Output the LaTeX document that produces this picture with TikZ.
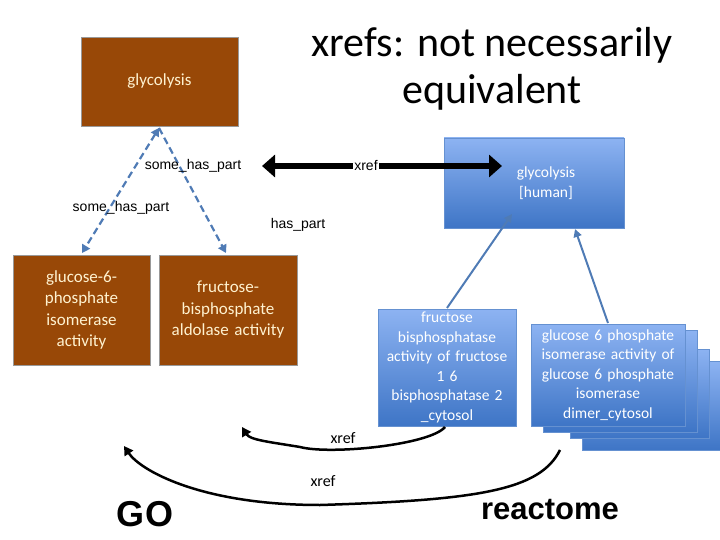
\documentclass[tikz,border=0pt]{standalone}
\usepackage{fontspec}
\setmainfont{Carlito}
\newfontfamily\arialf{Liberation Sans}
\usetikzlibrary{arrows.meta}
\definecolor{brn}{HTML}{984807}
\definecolor{bluA}{HTML}{8DB3F2}
\definecolor{bluB}{HTML}{3E75C6}
\definecolor{lnb}{HTML}{4F7BB5}
\definecolor{cream}{HTML}{FFF2D0}
\tikzset{x=1pt,y=-1pt,
 gobox/.style={draw=gray!80,fill=brn,text=cream,align=center,font=\fontsize{17}{21.5}\selectfont,inner sep=0pt},
 rbox/.style={draw=bluB!80,top color=bluA,bottom color=bluB,text=white,align=center,font=\fontsize{15.5}{19.5}\selectfont,inner sep=0pt},
 lbl/.style={font=\arialf\fontsize{14}{16}\selectfont},
 dsh/.style={draw=lnb,line width=2.2pt,dashed,dash pattern=on 7pt off 4pt,-{Triangle[length=8pt,width=9pt]}},
 sol/.style={draw=lnb,line width=2pt,-{Triangle[length=8pt,width=8pt]}},
 curv/.style={draw=black,line width=2.5pt,-{Triangle[length=9pt,width=10pt]}}}
\begin{document}
\begin{tikzpicture}
\useasboundingbox (0,0) rectangle (720,540);
\node[gobox,minimum width=157pt,minimum height=89pt,font=\fontsize{17}{21}\selectfont] (gly) at (159.5,81.5) {glycolysis};
\node[font=\fontsize{42}{47}\selectfont,align=center] (title) at (492,69) {xrefs: not necessarily\\equivalent};
\node[gobox,minimum width=137pt,minimum height=110pt,text width=125pt] (g1) at (81.5,310) {glucose-6-\\phosphate\\isomerase\\activity};
\node[gobox,minimum width=138pt,minimum height=110pt,text width=132pt] (g2) at (228,310) {fructose-\\bisphosphate\\aldolase activity};
\node[rbox,minimum width=180pt,minimum height=90pt,text width=160pt] (hum) at (534,183) {\hspace*{24pt}glycolysis\\\hspace*{24pt}[human]};
\node[rbox,minimum width=138pt,minimum height=117pt,text width=134pt] (fru) at (447,367.5) {fructose\\bisphosphatase\\activity of fructose\\1 6\\bisphosphatase 2\\\_cytosol};
\node[rbox,minimum width=138pt,minimum height=89pt] (s3) at (651,405.5) {};
\node[rbox,minimum width=139pt,minimum height=89pt] (s2) at (639.5,393.5) {};
\node[rbox,minimum width=154pt,minimum height=102pt] (s1) at (620,381) {};
\node[rbox,minimum width=154pt,minimum height=102pt,text width=152pt] (glu) at (608,375) {glucose 6 phosphate\\isomerase activity of\\glucose 6 phosphate\\isomerase\\dimer\_cytosol};
\coordinate (gb) at (159,128);
\draw[dsh,{Triangle[length=8pt,width=9pt]}-{Triangle[length=8pt,width=9pt]}] (gb) -- (82,253);
\draw[dsh] (gb) -- (226,253);
\node[lbl] (l1) at (193,166) {some\_has\_part};
\node[lbl] (l2) at (121,208) {some\_has\_part};
\node[lbl] (l3) at (298,225) {has\_part};
\coordinate (xa) at (262,166);
\coordinate (xb) at (502,166);
\draw[line width=6pt,{Triangle[length=13pt,width=22pt]}-{Triangle[length=13pt,width=22pt]}] (xa) -- (xb);
\node[lbl,fill=white,inner sep=1pt] (l4) at (366,166) {xref};
\draw[sol] (447,308) -- (512,214);
\draw[sol] (608,323) -- (575,229);
\draw[curv] (445,427) .. controls (430,445) and (330,455) .. (300,447) .. controls (270,442) and (250,440) .. (242,427);
\node[font=\fontsize{16}{18}\selectfont] (l5) at (343,438) {xref};
\draw[curv] (560,450) .. controls (540,490) and (480,500) .. (320,505) .. controls (200,505) and (140,470) .. (124,446);
\node[font=\fontsize{16}{18}\selectfont] (l6) at (323,481) {xref};
\node[font=\arialf\bfseries\fontsize{36}{40}\selectfont] (go) at (145,514) {GO};
\node[font=\arialf\bfseries\fontsize{31}{34}\selectfont] (re) at (550,510) {reactome};
\end{tikzpicture}
\end{document}
